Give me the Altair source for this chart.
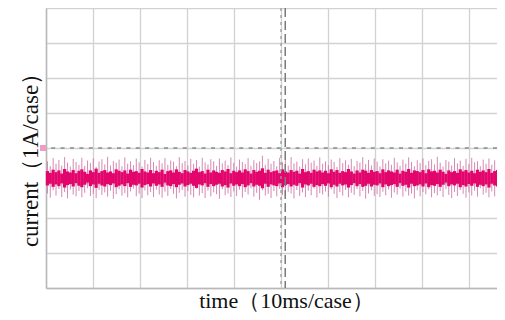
import altair as alt
import pandas as pd

# oscilloscope screen: 10 divisions x 8 divisions (right edge clipped by the photo)
x_visible = 451 / 47  # visible part of the horizontal range, in divisions
x_grid = [0, 1, 2, 3, 4, 5, 6, 7, 8, 9]
y_grid = [0, 1, 2, 3, 4, 5, 6, 7, 8]

sample_period = 0.061
spike_hi = [
3.62,3.48,3.71,3.55,3.66,3.50,3.74,3.58,3.47,3.69,3.60,3.52,3.72,3.49,3.64,3.57,3.70,3.46,3.61,3.68,
3.53,3.75,3.50,3.63,3.58,3.67,3.48,3.73,3.55,3.62,3.51,3.70,3.59,3.47,3.66,3.54,3.72,3.60,3.49,3.65,
3.56,3.71,3.52,3.64,3.61,3.48,3.74,3.57,3.63,3.50,3.69,3.55,3.66,3.47,3.72,3.59,3.53,3.68,3.62,3.49,
3.70,3.56,3.64,3.51,3.73,3.58,3.47,3.67,3.60,3.54,3.71,3.49,3.65,3.57,3.62,3.78,3.52,3.69,3.55,3.63,
3.48,3.72,3.59,3.66,3.50,3.74,3.56,3.61,3.47,3.68,3.53,3.70,3.58,3.64,3.49,3.73,3.55,3.62,3.51,3.67,
3.60,3.46,3.71,3.57,3.65,3.52,3.69,3.48,3.63,3.58,3.74,3.54,3.66,3.50,3.70,3.61,3.47,3.68,3.56,3.64,
3.52,3.72,3.59,3.49,3.67,3.55,3.73,3.60,3.48,3.65,3.57,3.70,3.51,3.63,3.68,3.53,3.75,3.58,3.47,3.66,
3.61,3.50,3.71,3.56,3.64,3.49,3.69,3.54,3.72,3.59,3.62,3.48,3.67,3.55,3.70,3.52,3.65,3.60,3.73,3.57]
spike_lo = [
2.70,2.58,2.79,2.64,2.83,2.60,2.74,2.56,2.81,2.67,2.62,2.77,2.59,2.72,2.85,2.63,2.69,2.57,2.80,2.66,
2.73,2.61,2.78,2.55,2.68,2.82,2.64,2.71,2.59,2.76,2.84,2.62,2.70,2.57,2.79,2.65,2.74,2.60,2.81,2.67,
2.58,2.75,2.63,2.83,2.69,2.56,2.72,2.80,2.61,2.77,2.66,2.59,2.84,2.64,2.71,2.57,2.78,2.62,2.73,2.68,
2.55,2.82,2.65,2.70,2.60,2.76,2.63,2.81,2.58,2.74,2.67,2.85,2.61,2.72,2.52,2.79,2.64,2.69,2.57,2.77,
2.62,2.83,2.66,2.59,2.75,2.70,2.56,2.80,2.63,2.73,2.60,2.78,2.65,2.84,2.58,2.71,2.67,2.76,2.61,2.82,
2.69,2.57,2.74,2.64,2.80,2.59,2.72,2.66,2.83,2.62,2.77,2.55,2.70,2.79,2.63,2.68,2.60,2.75,2.65,2.81,
2.58,2.73,2.67,2.84,2.61,2.76,2.64,2.70,2.56,2.79,2.62,2.74,2.68,2.82,2.59,2.71,2.65,2.77,2.60,2.83,
2.66,2.57,2.75,2.63,2.80,2.69,2.58,2.73,2.64,2.78,2.61,2.85,2.67,2.72,2.59,2.76,2.62,2.81,2.68,2.70]
core_hi = [
3.34,3.29,3.38,3.31,3.36,3.27,3.40,3.33,3.30,3.37,3.28,3.35,3.39,3.32,3.26,3.36,3.31,3.41,3.29,3.34,
3.37,3.30,3.33,3.28,3.39,3.35,3.31,3.36,3.27,3.38,3.32,3.34,3.29,3.40,3.33,3.30,3.37,3.28,3.35,3.31,
3.38,3.26,3.34,3.36,3.30,3.39,3.32,3.28,3.37,3.33,3.29,3.35,3.41,3.31,3.34,3.27,3.38,3.30,3.36,3.32,
3.29,3.37,3.33,3.40,3.28,3.35,3.31,3.36,3.30,3.39,3.34,3.27,3.37,3.32,3.35,3.42,3.29,3.38,3.31,3.34,
3.36,3.28,3.39,3.33,3.30,3.37,3.32,3.35,3.27,3.40,3.31,3.34,3.29,3.38,3.33,3.36,3.30,3.35,3.28,3.39,
3.32,3.37,3.29,3.34,3.31,3.40,3.33,3.27,3.36,3.30,3.38,3.35,3.29,3.37,3.32,3.34,3.28,3.39,3.31,3.36,
3.33,3.30,3.38,3.27,3.35,3.32,3.40,3.29,3.36,3.34,3.31,3.37,3.28,3.39,3.33,3.35,3.30,3.38,3.32,3.26,
3.36,3.31,3.34,3.29,3.39,3.33,3.37,3.30,3.35,3.28,3.38,3.32,3.36,3.31,3.40,3.29,3.34,3.37,3.30,3.35]
core_lo = [
2.93,2.98,2.89,2.96,2.91,2.99,2.87,2.94,2.97,2.90,3.00,2.92,2.88,2.95,3.01,2.91,2.96,2.86,2.98,2.93,
2.90,2.97,2.94,2.99,2.88,2.92,2.96,2.91,3.00,2.89,2.95,2.93,2.98,2.87,2.94,2.97,2.90,2.99,2.92,2.96,
2.89,3.01,2.93,2.91,2.97,2.88,2.95,2.99,2.90,2.94,2.98,2.92,2.86,2.96,2.93,3.00,2.89,2.97,2.91,2.95,
2.98,2.90,2.94,2.87,2.99,2.92,2.96,2.91,2.97,2.88,2.93,3.00,2.90,2.95,2.92,2.85,2.98,2.89,2.96,2.93,
2.91,2.99,2.88,2.94,2.97,2.90,2.95,2.92,3.00,2.87,2.96,2.93,2.98,2.89,2.94,2.91,2.97,2.92,2.99,2.88,
2.95,2.90,2.98,2.93,2.96,2.87,2.94,3.00,2.91,2.97,2.89,2.92,2.98,2.90,2.95,2.93,2.99,2.88,2.96,2.91,
2.94,2.97,2.89,3.00,2.92,2.95,2.87,2.98,2.91,2.93,2.96,2.90,2.99,2.88,2.94,2.92,2.97,2.89,2.95,3.01,
2.91,2.96,2.93,2.98,2.88,2.94,2.90,2.97,2.92,2.99,2.89,2.95,2.91,2.96,2.87,2.98,2.93,2.90,2.97,2.92]

center_x = [5]
center_y = [4]
cursor_x = [5.09]
marker_pos = [-0.065]
marker_level = [4.0]

n = min(len(spike_hi), len(spike_lo), len(core_hi), len(core_lo))
t = [round(0.03 + sample_period * i, 3) for i in range(n)]
df = pd.DataFrame({"t": t, "shi": spike_hi[:n], "slo": spike_lo[:n],
                   "chi": core_hi[:n], "clo": core_lo[:n]})

xs = alt.Scale(domain=[0, x_visible], nice=False, zero=False)
ys = alt.Scale(domain=[0, 8], nice=False, zero=False)
xa = alt.Axis(values=x_grid, labels=False, ticks=False, grid=True,
              domain=True, domainColor="#b8b8b8", domainWidth=1.5,
              gridColor="#d2d2d2", gridWidth=1.3,
              title="time（10ms/case）", titlePadding=2, titleX=240,
              titleFont="Liberation Serif", titleFontSize=22,
              titleFontWeight="normal", titleColor="#111111")
ya = alt.Axis(values=y_grid, labels=False, ticks=False, grid=True,
              domain=True, domainColor="#b8b8b8", domainWidth=1.5,
              gridColor="#d2d2d2", gridWidth=1.3,
              title="current（1A/case）", titlePadding=4, titleY=146,
              titleFont="Liberation Serif", titleFontSize=23,
              titleFontWeight="normal", titleColor="#111111")

base = alt.Chart(df)
spikes = base.mark_rule(color="#c8609a", strokeWidth=1, opacity=0.75).encode(
    x=alt.X("t:Q", scale=xs, axis=xa),
    y=alt.Y("shi:Q", scale=ys, axis=ya),
    y2="slo:Q",
)
core = base.mark_rule(color="#e2066c", strokeWidth=3.2).encode(
    x=alt.X("t:Q", scale=xs, axis=xa),
    y=alt.Y("chi:Q", scale=ys, axis=ya),
    y2="clo:Q",
)
hline = alt.Chart(pd.DataFrame({"v": center_y})).mark_rule(
    color="#8a8a8a", strokeWidth=1.3, strokeDash=[4, 5.4]).encode(
    y=alt.Y("v:Q", scale=ys, axis=ya))
vline = alt.Chart(pd.DataFrame({"t": center_x})).mark_rule(
    color="#9a9a9a", strokeWidth=1.3, strokeDash=[3, 4]).encode(
    x=alt.X("t:Q", scale=xs, axis=xa))
cursor = alt.Chart(pd.DataFrame({"t": cursor_x})).mark_rule(
    color="#7a7a7a", strokeWidth=1.5, strokeDash=[9, 4]).encode(
    x=alt.X("t:Q", scale=xs, axis=xa))
marker = alt.Chart(pd.DataFrame({"t": marker_pos, "v": marker_level})).mark_square(
    color="#f08ab8", size=36, opacity=0.85).encode(
    x=alt.X("t:Q", scale=xs, axis=xa),
    y=alt.Y("v:Q", scale=ys, axis=ya))

chart = alt.layer(spikes, core, hline, vline, cursor, marker).properties(
    width=451, height=280,
    padding={"left": 38, "top": 0, "right": 0, "bottom": 24},
    autosize=alt.AutoSizeParams(type="none"),
    background="white",
).configure_view(stroke=None)

chart.save("out.html", embed_options={"renderer": "svg", "actions": False})
